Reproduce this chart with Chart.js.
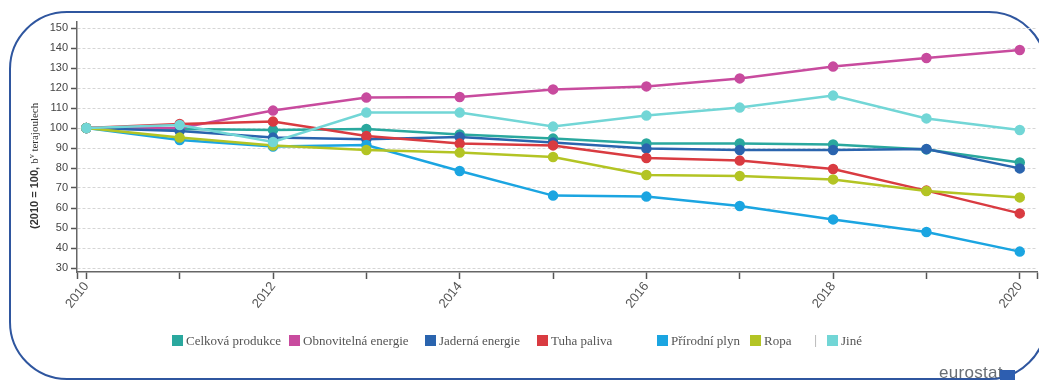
<!DOCTYPE html>
<html>
<head>
<meta charset="utf-8">
<script src="https://cdn.jsdelivr.net/npm/chart.js@4.4.0/dist/chart.umd.min.js"></script>
<style>
  body { margin: 0; background: #fff; }
  #wrap { position: relative; width: 1039px; height: 380px; overflow: hidden; background: #fff; }
  #frame { position: absolute; left: 9px; top: 11px; width: 1034px; height: 365px;
           border: 2.5px solid #2f569f; border-radius: 58px; }
  #chart { position: absolute; left: 0; top: 0; }
  .lg { position: absolute; top: 333px; height: 14px; line-height: 14px; white-space: nowrap;
        font: 13px "Liberation Serif", serif; color: #555; }
  .lg i { display: inline-block; width: 11px; height: 11px; vertical-align: -1px; margin-right: 3px; }
  #sep { position: absolute; left: 814px; top: 333px; font: 12px "Liberation Sans", sans-serif; color: #bbb; }
  #logo { position: absolute; left: 939px; top: 364px; font: 17px "Liberation Sans", sans-serif;
          line-height: 17px; color: #6a6f74; letter-spacing: 0.3px; }
  #flag { position: absolute; left: 1000px; top: 370px; width: 15px; height: 12px; background: #2d5eb0; }
</style>
</head>
<body>
<div id="wrap">
  <div id="frame"></div>
  <canvas id="chart" width="1044" height="380"></canvas>
  <div id="legend"></div>
  <span id="sep">|</span>
  <span id="logo">eurostat</span>
  <div id="flag"></div>
</div>
<script>
// index 2010 = 100
const years = [2010, 2011, 2012, 2013, 2014, 2015, 2016, 2017, 2018, 2019, 2020];
const seriesNames = ["Celková produkce", "Obnovitelná energie", "Jaderná energie", "Tuha paliva", "Přírodní plyn", "Ropa", "Jiné"];
const celkova     = [100, 99.5, 99, 99.5, 96.8, 94.7, 92.3, 92.3, 91.8, 89.3, 82.8];
const obnovitelna = [100, 100, 108.7, 115.2, 115.5, 119.3, 120.8, 124.8, 130.7, 135, 139];
const jaderna     = [100, 98.5, 95.2, 94.4, 95.5, 92.7, 89.7, 89, 89, 89.5, 79.8];
const tuha        = [100, 102, 103.2, 96, 92.2, 91.3, 85, 83.7, 79.5, 68.7, 57.3];
const plyn        = [100, 94, 90.7, 91.5, 78.5, 66.2, 65.7, 61, 54.3, 48, 38.2];
const ropa        = [100, 95.2, 91.2, 89, 87.7, 85.5, 76.5, 76, 74.3, 68.5, 65.3];
const jine        = [100, 101.5, 93, 107.7, 107.7, 100.7, 106.2, 110.2, 116.2, 104.8, 99];
const yTicks = [30, 40, 50, 60, 70, 80, 90, 100, 110, 120, 130, 140, 150];

const colors = ["#2aa89e", "#c84b9e", "#2a64ae", "#d93b41", "#1ba5e1", "#b3c424", "#72d6d6"];
const values = [celkova, obnovitelna, jaderna, tuha, plyn, ropa, jine];

const datasets = values.map((vals, i) => ({
  label: seriesNames[i],
  data: years.map((x, j) => ({ x: x, y: vals[j] })),
  borderColor: colors[i],
  backgroundColor: colors[i],
  pointBackgroundColor: colors[i],
  pointBorderColor: colors[i],
  borderWidth: 2.5,
  pointRadius: 4,
  order: values.length - 1 - i,
  tension: 0
}));

// rotated axis title, mixed fonts
const yTitle = {
  id: "yTitle",
  afterDraw(chart) {
    const ctx = chart.ctx;
    const parts = [
      ["(2010 = 100, ", "bold 11px 'Liberation Sans'", 0],
      ["b", "11px 'Liberation Serif'", 0],
      ["v", "8px 'Liberation Serif'", -4],
      [" terajoulech", "11px 'Liberation Serif'", 0]
    ];
    ctx.save();
    ctx.translate(38, 229);
    ctx.rotate(-Math.PI / 2);
    ctx.fillStyle = "#333";
    ctx.textBaseline = "alphabetic";
    let x = 0;
    for (const [t, f, dy] of parts) {
      ctx.font = f;
      ctx.fillText(t, x, dy);
      x += ctx.measureText(t).width;
    }
    ctx.restore();
  }
};

new Chart(document.getElementById("chart"), {
  type: "line",
  data: { datasets },
  plugins: [yTitle],
  options: {
    responsive: false,
    animation: false,
    layout: { padding: { top: 22, right: 0, left: 0, bottom: 48 } },
    plugins: { legend: { display: false }, tooltip: { enabled: false } },
    scales: {
      x: {
        type: "linear",
        min: 2009.9,
        max: 2020.19,
        afterBuildTicks: s => { s.ticks = [2009.9].concat(years, [2020.19]).map(v => ({ value: v })); },
        afterFit: s => { s.height = 60; s.paddingLeft = 0; s.paddingRight = 0; },
        grid: { drawOnChartArea: false, tickColor: "#555", tickLength: 7, tickWidth: 1.5 },
        border: { color: "#666", width: 1.5 },
        ticks: {
          autoSkip: false,
          minRotation: 52,
          maxRotation: 52,
          padding: 0,
          color: "#555",
          font: { family: "Liberation Sans", size: 13 },
          callback: v => (Number.isInteger(v) && v % 2 === 0 ? String(v) : "")
        }
      },
      y: {
        min: 28,
        max: 153,
        afterBuildTicks: s => { s.ticks = yTicks.map(v => ({ value: v })); },
        afterFit: s => { s.width = 77; },
        grid: { color: "#d6d6d6", lineWidth: 1, tickColor: "#555", tickLength: 6, tickWidth: 1.5 },
        border: { color: "#666", width: 1.5, dash: [3, 2] },
        ticks: {
          padding: 3,
          color: "#444",
          font: { family: "Liberation Sans", size: 11 }
        }
      }
    }
  }
});

// legend row
const legendLeft = [172, 289, 425, 537, 657, 750, 827];
const legend = document.getElementById("legend");
seriesNames.forEach((name, i) => {
  const el = document.createElement("span");
  el.className = "lg";
  el.style.left = legendLeft[i] + "px";
  el.innerHTML = '<i style="background:' + colors[i] + '"></i>' + name;
  legend.appendChild(el);
});
</script>
</body>
</html>
